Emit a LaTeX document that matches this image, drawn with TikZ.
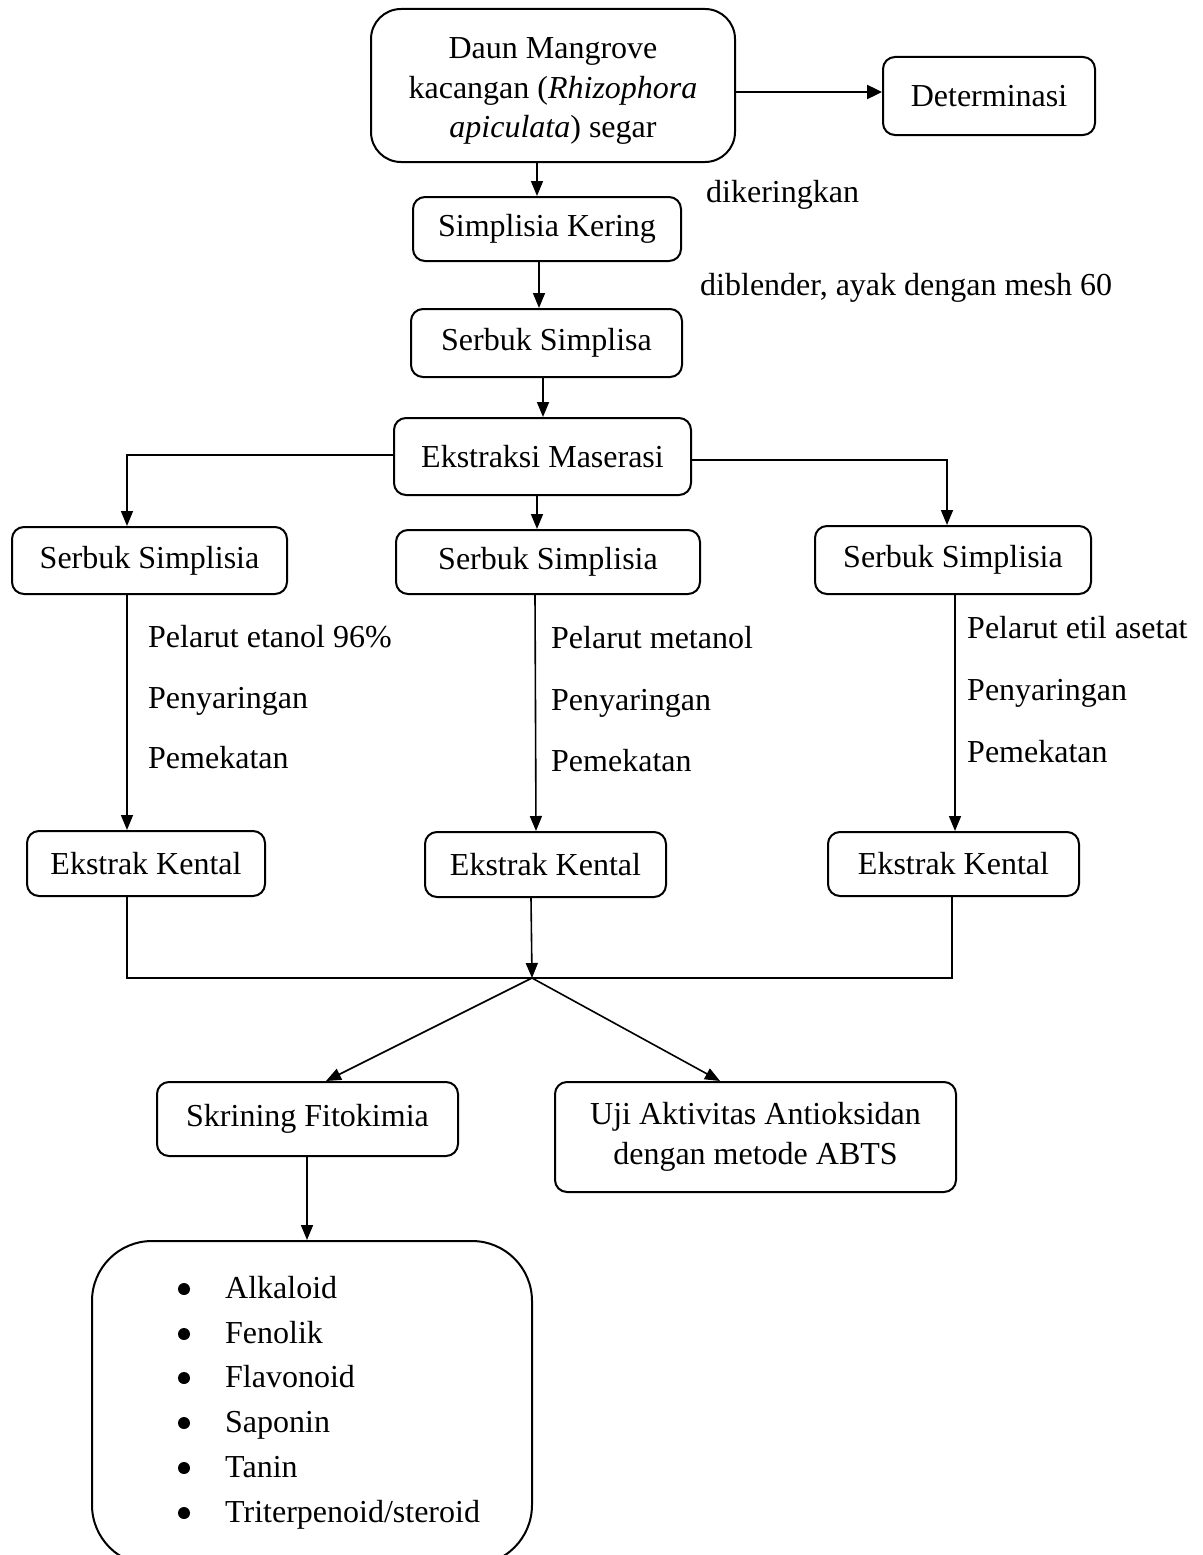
\documentclass[tikz,border=0pt]{standalone}
\usepackage{fontspec}
\setmainfont{Liberation Serif}
\usetikzlibrary{arrows.meta}
\begin{document}
\begin{tikzpicture}[x=1pt,y=-1pt,
  box/.style={draw,line width=2pt,rounded corners=12pt,inner sep=0pt,
    font=\fontsize{32}{39.5}\selectfont,align=center},
  txt/.style={inner sep=0pt,font=\fontsize{32}{39.5}\selectfont,align=center},
  lbl/.style={inner sep=0pt,anchor=base west,font=\fontsize{32}{39.5}\selectfont},
  arr/.style={line width=1.6pt,-{Triangle[length=15pt,width=12pt]}},
  ln/.style={line width=1.6pt},
  dot/.style={circle,fill=black,inner sep=0pt,minimum size=12pt}]
\clip (0,0) rectangle (1202,1555);
\fill[white] (0,0) rectangle (1202,1555);

% nodes
\node[box,rounded corners=30pt,minimum width=364pt,minimum height=153pt] (top) at (553,85.5) {};
\node[txt] (toptext) at (553,91)
  {Daun Mangrove\\kacangan (\textit{Rhizophora}\\\textit{apiculata}) segar};
\node[box,minimum width=212pt,minimum height=78pt] (det) at (989,96) {Determinasi};
\node[box,minimum width=268pt,minimum height=64pt] (sk) at (547,229) {Simplisia Kering};
\node[box,minimum width=271pt,minimum height=68pt] (ss) at (546.5,343) {Serbuk Simplisa};
\node[box,minimum width=297pt,minimum height=77pt] (em) at (542.5,456.5) {Ekstraksi Maserasi};
\node[box,minimum width=275pt,minimum height=67pt] (s1) at (149.5,560.5) {Serbuk Simplisia};
\node[box,minimum width=304pt,minimum height=64pt] (s2) at (548,562) {Serbuk Simplisia};
\node[box,minimum width=276pt,minimum height=68pt] (s3) at (953,560) {Serbuk Simplisia};
\node[box,minimum width=238pt,minimum height=65pt] (k1) at (146,863.5) {Ekstrak Kental};
\node[box,minimum width=241pt,minimum height=65pt] (k2) at (545.5,864.5) {Ekstrak Kental};
\node[box,minimum width=251pt,minimum height=64pt] (k3) at (953.5,864) {Ekstrak Kental};
\node[box,minimum width=301pt,minimum height=74pt] (sf) at (307.5,1119) {Skrining Fitokimia};
\node[box,minimum width=401pt,minimum height=110pt] (uji) at (755.5,1137)
  {Uji Aktivitas Antioksidan\\dengan metode ABTS};
\node[box,rounded corners=60pt,minimum width=440pt,minimum height=324pt] (big) at (312,1403) {};

% list in the big box
\foreach \i/\t/\y in {1/Alkaloid/1298,2/Fenolik/1343,3/Flavonoid/1387,4/Saponin/1432,5/Tanin/1477,6/Triterpenoid\slash steroid/1522}{
  \node[dot] (b\i) at (184,\y-9) {};
  \node[lbl] (t\i) at (225,\y) {\t};
}

% step labels
\node[lbl] (l0) at (706,202) {dikeringkan};
\node[lbl] (l00) at (700,295) {diblender, ayak dengan mesh 60};
\node[lbl] (la1) at (148,647) {Pelarut etanol 96\%};
\node[lbl] (la2) at (148,708) {Penyaringan};
\node[lbl] (la3) at (148,768) {Pemekatan};
\node[lbl] (lb1) at (551,648) {Pelarut metanol};
\node[lbl] (lb2) at (551,710) {Penyaringan};
\node[lbl] (lb3) at (551,771) {Pemekatan};
\node[lbl] (lc1) at (967,638) {Pelarut etil asetat};
\node[lbl] (lc2) at (967,700) {Penyaringan};
\node[lbl] (lc3) at (967,762) {Pemekatan};

% connectors
\draw[line width=2.4pt,-{Triangle[length=15pt,width=14pt]}] (top.east |- 0,92) -- (det.west |- 0,92);
\draw[arr] (top.south -| 537,0) -- (sk.north -| 537,0);
\draw[arr] (sk.south -| 539,0) -- (ss.north -| 539,0);
\draw[arr] (ss.south -| 543,0) -- (em.north -| 543,0);
\draw[arr] (em.west |- 0,455) -| (s1.north -| 127,0);
\draw[arr] (em.east |- 0,460) -| (s3.north -| 947,0);
\draw[arr] (em.south -| 537,0) -- (s2.north -| 537,0);
\draw[arr] (s1.south -| 127,0) -- (k1.north -| 127,0);
\draw[arr] (s2.south -| 535,0) -- (k2.north -| 536,0);
\draw[arr] (s3.south -| 955,0) -- (k3.north -| 955,0);
\coordinate (j) at (532,978);
\draw[ln] (k1.south -| 127,0) |- (j) -| (k3.south -| 952,0);
\draw[arr] (k2.south -| 531,0) -- (j);
\draw[arr] (j) -- (sf.north -| 326,0);
\draw[arr] (j) -- (uji.north -| 720,0);
\draw[arr] (sf.south -| 307,0) -- (big.north -| 307,0);
\end{tikzpicture}
\end{document}
